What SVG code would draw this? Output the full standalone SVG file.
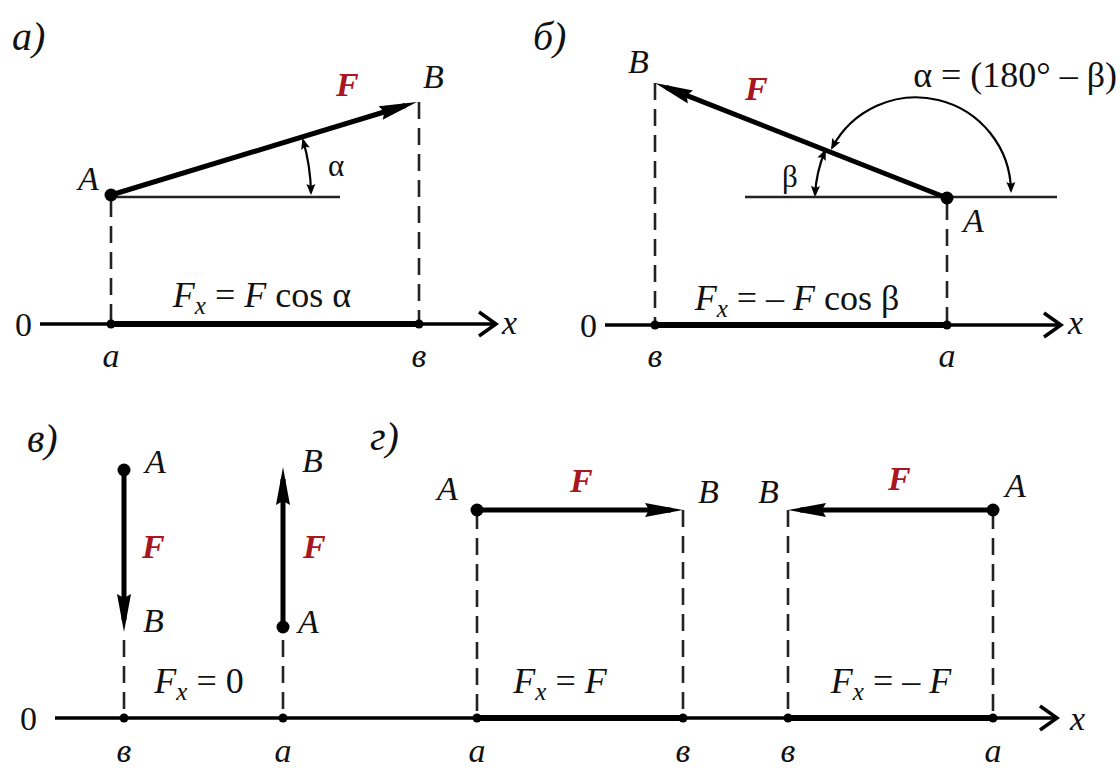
<svg xmlns="http://www.w3.org/2000/svg" width="1120" height="768" viewBox="0 0 1120 768" font-family="'Liberation Serif', 'Times New Roman', Tinos, 'DejaVu Serif', serif">
<style>
text{fill:#111}
.it{font-style:italic;font-size:34px}
.up{font-size:34px}
.fm{font-size:36px;text-anchor:middle}
.pl{font-style:italic;font-size:40px}
.f{font-style:italic;font-weight:bold;font-size:34px;fill:#a8161f}
.gr{font-size:31px}
.sub{font-size:25px;font-style:italic}
.vec{stroke:#000;stroke-width:5;fill:none;marker-end:url(#ah)}
.ax{stroke:#000;stroke-width:3.5;fill:none}
.axb{stroke:#000;stroke-width:6;fill:none}
.chev{stroke:#000;stroke-width:3.5;fill:none;stroke-linejoin:miter}
.dash{stroke:#222;stroke-width:2.6;stroke-dasharray:17 9;fill:none}
.ref{stroke:#222;stroke-width:2.6;fill:none}
.ang{stroke:#000;stroke-width:2.2;fill:none;marker-start:url(#sa);marker-end:url(#sa)}
</style>
<defs>
<marker id="ah" markerUnits="userSpaceOnUse" overflow="visible" orient="auto" refX="26" refY="0" markerWidth="40" markerHeight="16">
<path d="M0,-7 L38,0 L0,7 L4,0 z" fill="#000"/>
</marker>
<marker id="sa" markerUnits="userSpaceOnUse" overflow="visible" orient="auto-start-reverse" refX="9" refY="0" markerWidth="12" markerHeight="10">
<path d="M0,-4.5 L11,0 L0,4.5 L2,0 z" fill="#000"/>
</marker>
</defs>

<g id="connectors">
<path class="dash" d="M111,200 V323"/>
<path class="dash" d="M419,102 V323"/>
<path class="ref" d="M111,197 H340"/>
<path class="vec" d="M111,195 L405.5,105.5"/>
<path class="ang" d="M311,193 A200,200 0 0 0 303,140"/>
<path class="ax" d="M40,324 H495"/>
<path class="axb" d="M111,324 H419"/>
<path class="chev" d="M479,312 L496,324 L479,336"/>
<path class="dash" d="M655,83 V323"/>
<path class="dash" d="M947,203 V323"/>
<path class="ref" d="M745,197 H1057"/>
<path class="vec" d="M947,198 L666.2,87.4"/>
<path class="ang" d="M815,195 A132,132 0 0 1 825,151"/>
<path class="ang" d="M832,148 A95,95 0 0 1 1011,191"/>
<path class="ax" d="M605,325 H1060"/>
<path class="axb" d="M655,325 H947"/>
<path class="chev" d="M1044,313 L1061,325 L1044,337"/>
<path class="vec" d="M124,470 V620"/>
<path class="vec" d="M283,627 V479"/>
<path class="dash" d="M124,640 V718"/>
<path class="dash" d="M283,640 V718"/>
<path class="vec" d="M477,510 H671"/>
<path class="vec" d="M993,510 H800"/>
<path class="dash" d="M477,512 V718"/>
<path class="dash" d="M683,510 V718"/>
<path class="dash" d="M788,510 V718"/>
<path class="dash" d="M993,512 V718"/>
<path class="ax" d="M55,718 H1056"/>
<path class="axb" d="M477,718 H683"/>
<path class="axb" d="M788,718 H993"/>
<path class="chev" d="M1040,706 L1057,718 L1040,730"/>
</g>

<g id="panel-a">
<text class="pl" x="12" y="50">а)</text>
<g id="a-pointA"><circle cx="111" cy="195" r="6.5"/><text class="it" x="78" y="190">A</text></g>
<g id="a-pointB"><text class="it" x="423" y="88">B</text></g>
<text class="f" x="336" y="96">F</text>
<text class="gr" x="328" y="176">α</text>
<text class="up" x="15" y="336">0</text>
<text class="it" x="502" y="334">x</text>
<circle cx="111" cy="324" r="4.5"/><circle cx="419" cy="324" r="4.5"/>
<text class="it" x="111" y="367" text-anchor="middle">а</text>
<text class="it" x="419" y="367" text-anchor="middle">в</text>
<text class="fm" x="262" y="307"><tspan font-style="italic">F</tspan><tspan class="sub" dy="7">x</tspan><tspan dy="-7"> = </tspan><tspan font-style="italic">F</tspan> cos α</text>
</g>

<g id="panel-b">
<text class="pl" x="533" y="50">б)</text>
<g id="b-pointB"><text class="it" x="628" y="73">B</text></g>
<g id="b-pointA"><circle cx="947" cy="198" r="6.5"/><text class="it" x="963" y="232">A</text></g>
<text class="f" x="745" y="100">F</text>
<text x="1117" y="87" font-size="36" text-anchor="end">α = (180° – β)</text>
<text class="gr" x="782" y="187">β</text>
<text class="up" x="580" y="337">0</text>
<text class="it" x="1068" y="334">x</text>
<circle cx="655" cy="325" r="4.5"/><circle cx="947" cy="325" r="4.5"/>
<text class="it" x="655" y="367" text-anchor="middle">в</text>
<text class="it" x="947" y="367" text-anchor="middle">а</text>
<text class="fm" x="797" y="310"><tspan font-style="italic">F</tspan><tspan class="sub" dy="7">x</tspan><tspan dy="-7"> = – </tspan><tspan font-style="italic">F</tspan> cos β</text>
</g>

<g id="panel-v">
<text class="pl" x="27" y="452">в)</text>
<g id="v-down"><circle cx="124" cy="470" r="6.5"/><text class="it" x="145" y="473">A</text><text class="it" x="143" y="632">B</text><text class="f" x="142" y="558">F</text></g>
<g id="v-up"><circle cx="283" cy="627" r="6.5"/><text class="it" x="302" y="472">B</text><text class="it" x="298" y="633">A</text><text class="f" x="303" y="558">F</text></g>
<text class="up" x="20" y="730">0</text>
<circle cx="124" cy="718" r="4.5"/><circle cx="283" cy="718" r="4.5"/>
<text class="it" x="124" y="762" text-anchor="middle">в</text>
<text class="it" x="283" y="762" text-anchor="middle">а</text>
<text class="fm" x="199" y="693"><tspan font-style="italic">F</tspan><tspan class="sub" dy="7">x</tspan><tspan dy="-7"> = 0</tspan></text>
</g>

<g id="panel-g">
<text class="pl" x="370" y="450">г)</text>
<g id="g-right"><circle cx="477" cy="510" r="6.5"/><text class="it" x="437" y="500">A</text><text class="f" x="570" y="492">F</text><text class="it" x="698" y="503">B</text></g>
<g id="g-left"><circle cx="993" cy="510" r="6.5"/><text class="it" x="758" y="503">B</text><text class="f" x="888" y="490">F</text><text class="it" x="1005" y="497">A</text></g>
<circle cx="477" cy="718" r="4.5"/><circle cx="683" cy="718" r="4.5"/><circle cx="788" cy="718" r="4.5"/><circle cx="993" cy="718" r="4.5"/>
<text class="it" x="477" y="762" text-anchor="middle">а</text>
<text class="it" x="683" y="762" text-anchor="middle">в</text>
<text class="it" x="788" y="762" text-anchor="middle">в</text>
<text class="it" x="993" y="762" text-anchor="middle">а</text>
<text class="fm" x="560" y="693"><tspan font-style="italic">F</tspan><tspan class="sub" dy="7">x</tspan><tspan dy="-7"> = </tspan><tspan font-style="italic">F</tspan></text>
<text class="fm" x="891" y="693"><tspan font-style="italic">F</tspan><tspan class="sub" dy="7">x</tspan><tspan dy="-7"> = – </tspan><tspan font-style="italic">F</tspan></text>
<text class="it" x="1070" y="730">x</text>
</g>
</svg>
